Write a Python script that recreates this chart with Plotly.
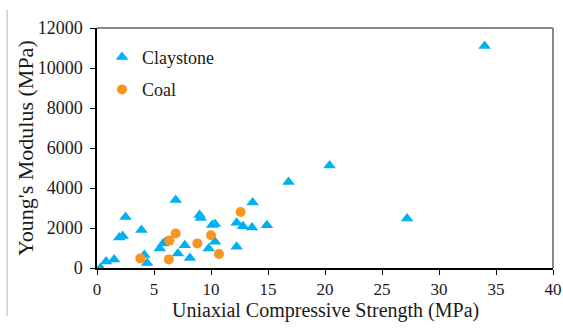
import plotly.graph_objects as go

clay_ucs = [0.3, 0.8, 1.5, 1.95, 2.25, 2.5, 3.9, 4.15, 4.4, 5.5, 5.8, 6.0, 6.9, 7.1, 7.7, 8.15,
            9.0, 9.1, 9.8, 10.1, 10.35, 10.35, 12.25, 12.25, 12.8, 13.6, 13.65, 14.9, 16.8,
            20.4, 27.2, 34.0]
clay_e = [0, 320, 420, 1530, 1600, 2550, 1900, 650, 250, 980, 1230, 1300, 3400, 720, 1140, 500,
          2650, 2500, 980, 2150, 2200, 1310, 2260, 1060, 2090, 2020, 3280, 2140, 4300,
          5130, 2470, 11100]

coal_ucs = [3.8, 6.3, 6.35, 6.9, 8.8, 10.0, 10.7, 12.6]
coal_e = [480, 430, 1370, 1730, 1230, 1640, 700, 2800]

x_ticks = [0, 5, 10, 15, 20, 25, 30, 35, 40]
y_ticks = [0, 2000, 4000, 6000, 8000, 10000, 12000]
y_ticktext = ["0", "2000", "4000", "6000", "8000", "10000", "12000"]

x_title = "Uniaxial Compressive Strength (MPa)"
y_title = "Young's Modulus (MPa)"

font = "Liberation Serif, Times New Roman, serif"
txt = "#1a1a1a"

fig = go.Figure()
fig.add_trace(go.Scatter(x=clay_ucs, y=clay_e, mode="markers", name="Claystone",
                         legendgroup="a",
                         marker=dict(symbol="triangle-up", size=11, color="#00B0F0")))
fig.add_trace(go.Scatter(x=coal_ucs, y=coal_e, mode="markers", name="Coal",
                         legendgroup="b",
                         marker=dict(symbol="circle", size=10, color="#F7961E")))

fig.update_layout(
    width=563, height=328,
    margin=dict(l=97, r=10, t=28, b=60),
    paper_bgcolor="white", plot_bgcolor="white",
    font=dict(family=font, size=17, color=txt),
    legend=dict(x=0.011, y=0.955, xanchor="left", yanchor="top",
                font=dict(family=font, size=18, color=txt),
                bgcolor="rgba(0,0,0,0)", tracegroupgap=6, itemwidth=30),
    xaxis=dict(range=[0, 40], tickvals=x_ticks, ticks="outside", ticklen=5,
               tickcolor="black", showline=True, linecolor="black", linewidth=1.5,
               showgrid=False, zeroline=False, automargin=False,
               tickfont=dict(family=font, size=17, color=txt)),
    yaxis=dict(range=[0, 12000], tickvals=y_ticks, ticktext=y_ticktext,
               ticks="outside", ticklen=5, ticklabelstandoff=4,
               tickcolor="black", showline=True, linecolor="black", linewidth=1.5,
               showgrid=False, zeroline=False, automargin=False,
               tickfont=dict(family=font, size=18, color=txt)),
)

fig.add_annotation(text=x_title, xref="paper", yref="paper", x=0.5, y=-0.175,
                   xanchor="center", yanchor="middle", showarrow=False,
                   font=dict(family=font, size=20, color=txt))
fig.add_annotation(text=y_title, xref="paper", yref="paper", x=-0.158, y=0.5,
                   xanchor="center", yanchor="middle", showarrow=False, textangle=-90,
                   font=dict(family=font, size=22, color=txt))

# plot-area border (top and right)
fig.add_shape(type="line", xref="paper", yref="paper", x0=0, x1=1, y0=1, y1=1,
              line=dict(color="#888", width=2))
fig.add_shape(type="line", xref="paper", yref="paper", x0=1, x1=1, y0=0, y1=1,
              line=dict(color="#888", width=2))
# outer chart frame edge on left
fig.add_shape(type="line", xref="paper", yref="paper", x0=-0.197, x1=-0.197, y0=-0.2, y1=1.075,
              line=dict(color="#ccc", width=1.5))

fig.write_html("out.html", config={"displayModeBar": False},
               post_script="document.body.style.margin='0';document.body.style.overflow='hidden';")
